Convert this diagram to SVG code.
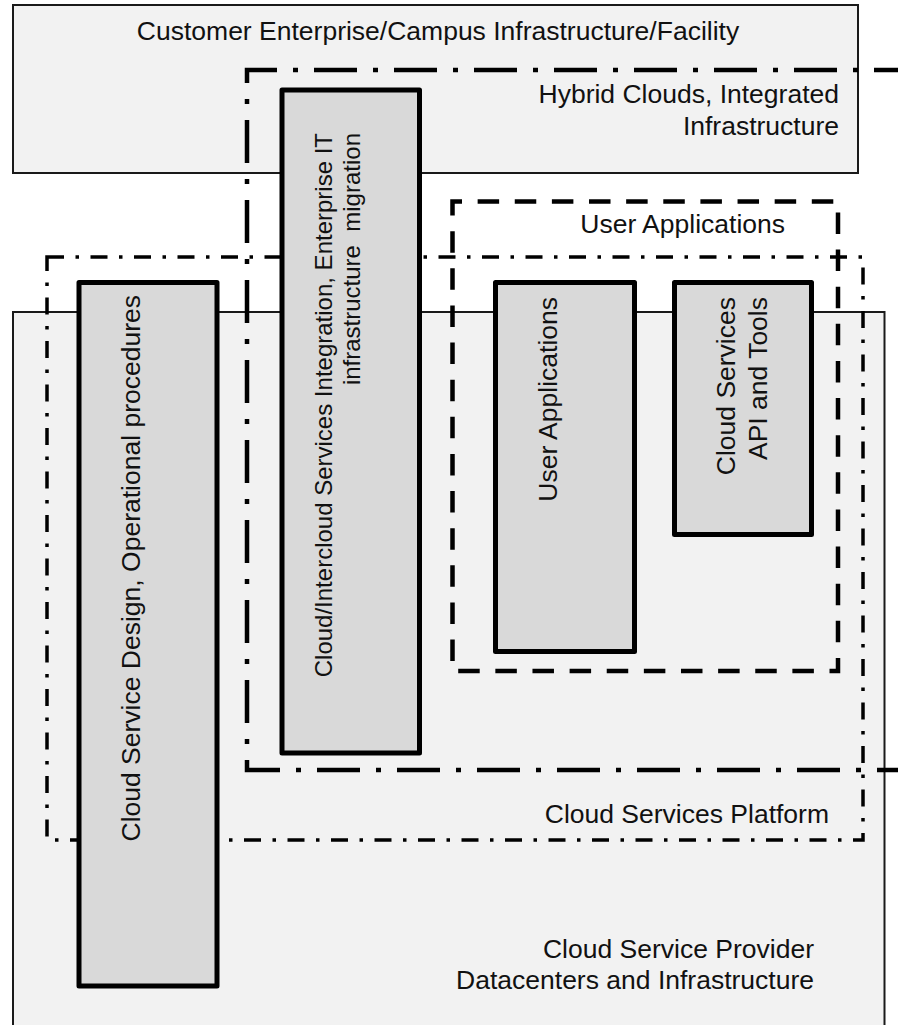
<svg xmlns="http://www.w3.org/2000/svg" width="898" height="1025" viewBox="0 0 898 1025">
<style>
.area{fill:#f2f2f2;stroke:#1a1a1a;stroke-width:2}
.bar{fill:#d9d9d9;stroke:#000;stroke-width:5;stroke-linejoin:round}
.t{font-family:"Liberation Sans",Arial,sans-serif;font-size:26.5px;fill:#111}
.hyb{fill:none;stroke:#000;stroke-width:4.5;stroke-dasharray:43 16 5 16}
.plat{fill:none;stroke:#000;stroke-width:3.5;stroke-dasharray:17 11.5 3.5 11.5}
.ua{fill:none;stroke:#000;stroke-width:4.5;stroke-dasharray:21.5 15.63}
</style>
<rect width="898" height="1025" fill="#fff"/>
<g id="customer">
<rect class="area" x="13" y="5" width="845" height="168"/>
<text class="t" x="438" y="40" text-anchor="middle">Customer Enterprise/Campus Infrastructure/Facility</text>
</g>
<g id="provider">
<rect class="area" x="13" y="312" width="871.5" height="730"/>
<text class="t" x="814" y="958" text-anchor="end">Cloud Service Provider</text>
<text class="t" x="814" y="989" text-anchor="end">Datacenters and Infrastructure</text>
</g>
<g id="platform">
<rect class="plat" x="47" y="257" width="816" height="583"/>
<text class="t" x="829" y="823" text-anchor="end">Cloud Services Platform</text>
</g>
<g id="hybrid">
<path class="hyb" d="M 920,770 H 247 V 70 H 920"/>
<text class="t" x="839" y="103" text-anchor="end">Hybrid Clouds, Integrated</text>
<text class="t" x="839" y="135" text-anchor="end">Infrastructure</text>
</g>
<g id="user-apps-group">
<rect class="ua" x="452.5" y="201.5" width="385.5" height="469.5" stroke-dashoffset="12"/>
<text class="t" x="785" y="233" text-anchor="end">User Applications</text>
</g>
<g id="design">
<rect class="bar" x="79" y="282.5" width="138" height="703.5"/>
<text class="t" transform="translate(140,295) rotate(-90)" text-anchor="end">Cloud Service Design, Operational procedures</text>
</g>
<g id="intercloud">
<rect class="bar" x="282" y="90" width="137.5" height="663"/>
<text class="t" style="font-size:24px" transform="translate(332,133) rotate(-90)" text-anchor="end">Cloud/Intercloud Services Integration, Enterprise IT</text>
<text class="t" style="font-size:24px;white-space:pre" xml:space="preserve" transform="translate(360,133) rotate(-90)" text-anchor="end">infrastructure  migration</text>
</g>
<g id="user-apps">
<rect class="bar" x="495.5" y="282.5" width="139" height="369"/>
<text class="t" transform="translate(557,297) rotate(-90)" text-anchor="end">User Applications</text>
</g>
<g id="api-tools">
<rect class="bar" x="674.5" y="282.5" width="137" height="252"/>
<text class="t" transform="translate(735,297) rotate(-90)" text-anchor="end">Cloud Services</text>
<text class="t" transform="translate(767,297) rotate(-90)" text-anchor="end">API and Tools</text>
</g>
<g id="connectors"></g>
</svg>
